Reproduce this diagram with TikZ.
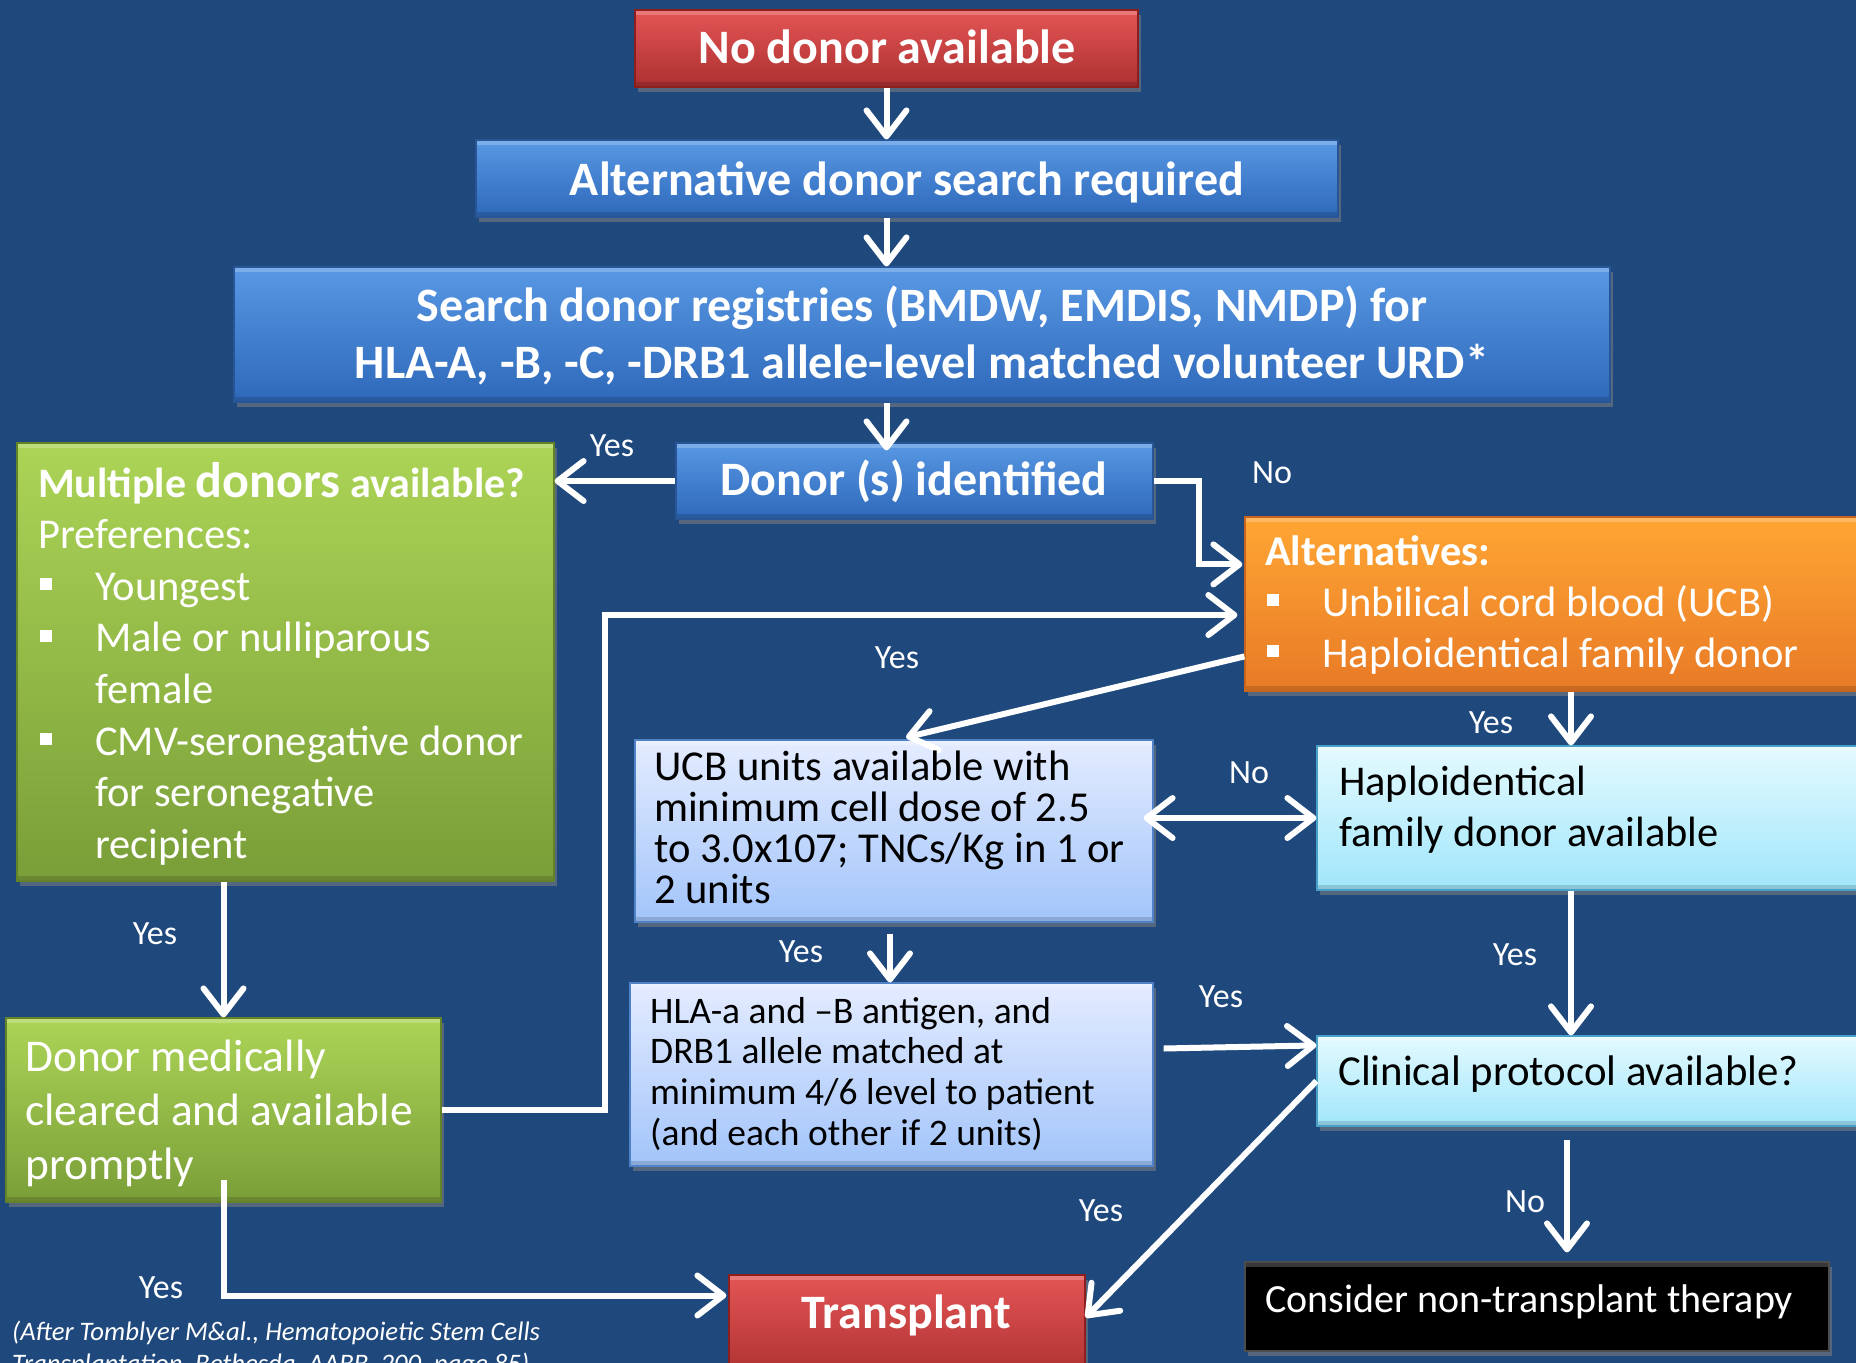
\documentclass[tikz,border=0pt]{standalone}
\usepackage{fontspec}
\setmainfont{Carlito}
\usetikzlibrary{arrows.meta,calc,shadows}
\definecolor{bg}{RGB}{31,73,125}
\definecolor{redT}{RGB}{228,85,85}\definecolor{redB}{RGB}{172,48,48}\definecolor{redE}{RGB}{140,30,30}
\definecolor{bluT}{RGB}{88,152,228}\definecolor{bluB}{RGB}{46,104,186}\definecolor{bluE}{RGB}{40,85,150}
\definecolor{grnT}{RGB}{172,212,86}\definecolor{grnB}{RGB}{122,158,56}\definecolor{grnE}{RGB}{100,130,40}
\definecolor{orgT}{RGB}{255,166,52}\definecolor{orgB}{RGB}{232,122,38}\definecolor{orgE}{RGB}{200,100,30}
\definecolor{lavT}{RGB}{228,236,255}\definecolor{lavB}{RGB}{162,196,250}\definecolor{lavE}{RGB}{80,130,200}
\definecolor{cyaT}{RGB}{228,250,255}\definecolor{cyaB}{RGB}{160,230,250}\definecolor{cyaE}{RGB}{70,160,200}
\newcommand\bul{\rule[10pt]{12pt}{12pt}}
\newcommand\bl{\makebox[57pt][l]{\hspace{2pt}\bul}}
\newcommand\bi{\hspace*{57pt}}
\newcommand\fs[2]{\fontsize{#1}{#2}\selectfont}
\newcommand\ptxt[1]{\parbox[t]{900pt}{\raggedright #1}}
\begin{document}
\begin{tikzpicture}[x=1pt,y=-1pt,
  bx/.style={rectangle, inner sep=0pt, line width=1.2pt,
    drop shadow={shadow xshift=3pt,shadow yshift=-5pt,opacity=.55},
    path picture={
      \fill[white,opacity=.22] (path picture bounding box.north west) rectangle ([yshift=-5pt]path picture bounding box.north east);
      \fill[black,opacity=.14] ([yshift=5pt]path picture bounding box.south west) rectangle (path picture bounding box.south east);}},
  redbox/.style={bx, draw=redE, top color=redT, bottom color=redB},
  blubox/.style={bx, draw=bluE, top color=bluT, bottom color=bluB},
  grnbox/.style={bx, draw=grnE, top color=grnT, bottom color=grnB},
  orgbox/.style={bx, draw=orgE, top color=orgT, bottom color=orgB},
  lavbox/.style={bx, draw=lavE, top color=lavT, bottom color=lavB},
  cyabox/.style={bx, draw=cyaE, top color=cyaT, bottom color=cyaB},
  blkbox/.style={bx, draw=black!70, fill=black},
  wt/.style={inner sep=0pt, text=white},
  bt/.style={inner sep=0pt, text=black},
  lbl/.style={inner sep=0pt, text=white, font=\fs{34}{40}},
  arr/.style={draw=white, line width=6pt,
    -{Straight Barb[length=26pt,width=40pt,line cap=round,line join=round]}},
  dbl/.style={draw=white, line width=6pt,
    {Straight Barb[length=26pt,width=40pt,line cap=round,line join=round]}-{Straight Barb[length=26pt,width=40pt,line cap=round,line join=round]}}
]
\fill[bg] (0,0) rectangle (1856,1363);
\useasboundingbox (0,0) rectangle (1856,1363);

% boxes
\node[redbox, minimum width=503pt, minimum height=77pt] (nodonor) at (886.5,48.5) {};
\node[blubox, minimum width=862pt, minimum height=77pt] (altsearch) at (907,178.5) {};
\node[blubox, minimum width=1376pt, minimum height=135pt] (search) at (922,334.5) {};
\node[blubox, minimum width=477pt, minimum height=76pt] (donorid) at (914.5,481) {};
\node[grnbox, minimum width=537pt, minimum height=438pt] (multi) at (285.5,662) {};
\node[orgbox, minimum width=625pt, minimum height=174pt] (alt) at (1557.5,604) {};
\node[lavbox, minimum width=518pt, minimum height=182pt] (ucb) at (894,831) {};
\node[cyabox, minimum width=553pt, minimum height=144pt] (haplo) at (1593.5,818) {};
\node[lavbox, minimum width=523pt, minimum height=183pt] (hla) at (891.5,1074.5) {};
\node[cyabox, minimum width=553pt, minimum height=90pt] (clin) at (1593.5,1081) {};
\node[grnbox, minimum width=435pt, minimum height=184pt] (med) at (223.5,1110) {};
\node[redbox, minimum width=356pt, minimum height=105pt] (trans) at (907,1327.5) {};
\node[blkbox, minimum width=584pt, minimum height=89pt] (consider) at (1537,1306.5) {};

% connectors
\coordinate (loopc) at (605,615);
\coordinate (colA) at (1571,0);
\coordinate (colB) at (1567,0);
\draw[arr] (nodonor.south) -- (nodonor.south |- altsearch.north);
\draw[arr] (nodonor.south |- altsearch.south) -- (nodonor.south |- search.north);
\draw[arr, shorten >=-8pt] (nodonor.south |- search.south) -- (nodonor.south |- donorid.north);
\draw[arr] (donorid.west) -- (donorid.west -| multi.east);
\draw[arr] (donorid.east) -- ++(45,0) |- ($(alt.north west)+(-2,48)$);
\draw[arr] (med.east) -| (loopc) -- ($(loopc -| alt.west)+(-7,0)$);
\draw[arr] ($(alt.north west)+(0,140)$) -- ($(ucb.north)+(12,-2)$);
\draw[arr] (alt.south -| colA) -- (haplo.north -| colA);
\draw[dbl] ($(haplo.west -| ucb.east)+(-10,0)$) -- (haplo.west);
\draw[arr] ($(ucb.south)+(-4,11)$) -- ($(ucb.south |- hla.north)+(-4,0)$);
\draw[arr] ($(hla.east)+(10,-26)$) -- ($(clin.north west)+(0,10)$);
\draw[arr] (haplo.south -| colA) -- (clin.north -| colA);
\draw[arr] (clin.west) -- ($(trans.east)+(0,-10)$);
\draw[arr] ($(clin.south -| colB)+(0,13)$) -- ($(consider.north -| colB)+(0,-9)$);
\draw[arr] (med.north |- multi.south) -- (med.north);
\draw[arr] ($(med.south)+(0,-23)$) |- ($(trans.west)+(-2,-32)$);

% texts
\node[wt, anchor=base, font=\fs{48}{57}\bfseries] (nodonorT) at (887,63) {No donor available};
\node[wt, anchor=base, font=\fs{48}{57}\bfseries] (altsearchT) at (907,195) {Alternative donor search required};
\node[wt, anchor=base, font=\fs{48}{57}\bfseries] (searchT) at (922,321) {\parbox[t]{1300pt}{\centering Search donor registries (BMDW, EMDIS, NMDP) for\\HLA-A, -B, -C, -DRB1 allele-level matched volunteer URD*}};
\node[wt, anchor=base, font=\fs{48}{57}\bfseries] (donoridT) at (914,495) {Donor (s) identified};
\node[wt, anchor=base west, font=\fs{42.5}{51.6}] (multiT) at (38,497) {\ptxt{\textbf{{\fs{42}{51.6}Multiple} {\fs{50}{51.6}donors} {\fs{42}{51.6}available?}}\\
Preferences:\\
\bl Youngest\\
\bl Male or nulliparous\\
\bi female\\
\bl CMV-seronegative donor\\
\bi for seronegative\\
\bi recipient}};
\node[wt, anchor=base west, font=\fs{42.5}{51}] (altT) at (1265,565) {\ptxt{\textbf{Alternatives:}\\
\bl Unbilical cord blood (UCB)\\
\bl Haploidentical family donor}};
\node[bt, anchor=base west, font=\fs{42.6}{41}] (ucbT) at (654,780) {\ptxt{UCB units available with\\minimum cell dose of 2.5\\to 3.0x107; TNCs/Kg in 1 or\\2 units}};
\node[bt, anchor=base west, font=\fs{42.4}{51}] (haploT) at (1339,795) {\ptxt{Haploidentical\\family donor available}};
\node[bt, anchor=base west, font=\fs{37.5}{40.8}] (hlaT) at (650,1023) {\ptxt{HLA-a and –B antigen, and\\DRB1 allele matched at\\minimum 4/6 level to patient\\(and each other if 2 units)}};
\node[bt, anchor=base west, font=\fs{42.8}{51}] (clinT) at (1338,1085) {Clinical protocol available?};
\node[wt, anchor=base west, font=\fs{45.4}{54}] (medT) at (25,1071) {\ptxt{Donor medically\\cleared and available\\promptly}};
\node[wt, anchor=base, font=\fs{48}{57}\bfseries] (transT) at (906,1328) {Transplant};
\node[wt, anchor=base west, font=\fs{40}{48}] (considerT) at (1265,1312) {Consider non-transplant therapy};
\node[wt, anchor=base west, font=\fs{26.7}{32}\itshape] (citeT) at (12,1340) {\ptxt{(After Tomblyer M\&al., Hematopoietic Stem Cells\\Transplantation, Bethesda, AABB, 200, page 85)}};

% labels
\node[lbl] (y1) at (612,446) {Yes};
\node[lbl] (n1) at (1272,473) {No};
\node[lbl] (y2) at (897,658) {Yes};
\node[lbl] (y3) at (1491,723) {Yes};
\node[lbl] (n2) at (1249,773) {No};
\node[lbl] (y4) at (155,934) {Yes};
\node[lbl] (y5) at (801,952) {Yes};
\node[lbl] (y6) at (1515,955) {Yes};
\node[lbl] (y7) at (1221,997) {Yes};
\node[lbl] (y8) at (1101,1211) {Yes};
\node[lbl] (n3) at (1525,1202) {No};
\node[lbl] (y9) at (161,1288) {Yes};
\end{tikzpicture}
\end{document}
